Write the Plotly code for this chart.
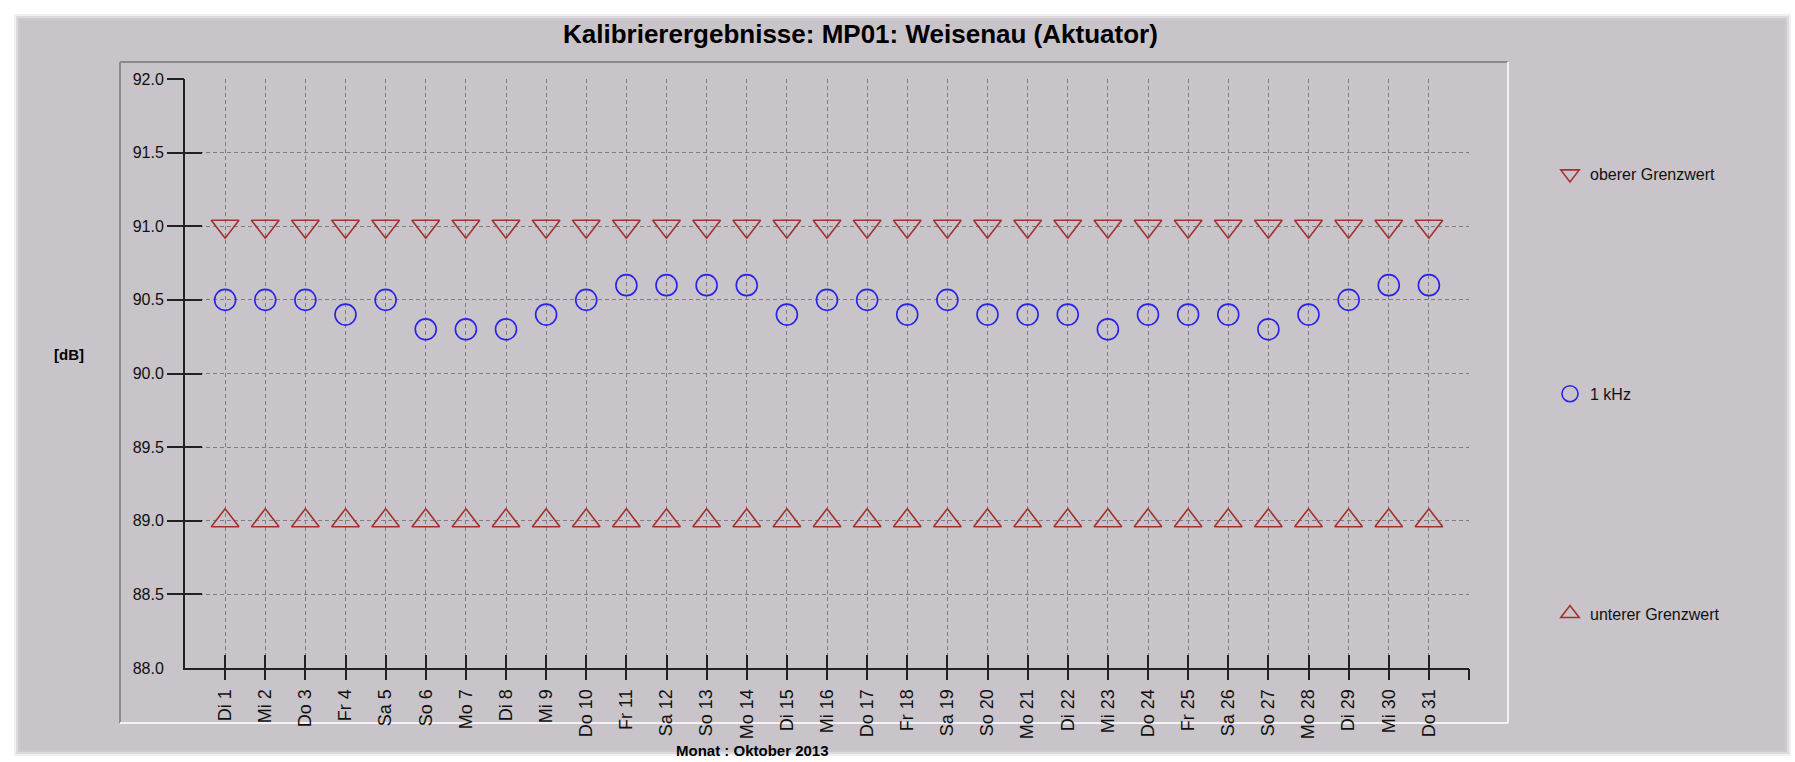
import plotly.graph_objects as go

# ---- data ----
days = list(range(1, 32))
day_labels = ["Di 1", "Mi 2", "Do 3", "Fr 4", "Sa 5", "So 6", "Mo 7", "Di 8", "Mi 9", "Do 10",
              "Fr 11", "Sa 12", "So 13", "Mo 14", "Di 15", "Mi 16", "Do 17", "Fr 18", "Sa 19",
              "So 20", "Mo 21", "Di 22", "Mi 23", "Do 24", "Fr 25", "Sa 26", "So 27", "Mo 28",
              "Di 29", "Mi 30", "Do 31"]
upper_limit = [91.0] * 31
lower_limit = [89.0] * 31
khz1 = [90.5, 90.5, 90.5, 90.4, 90.5, 90.3, 90.3, 90.3, 90.4, 90.5,
        90.6, 90.6, 90.6, 90.6, 90.4, 90.5, 90.5, 90.4, 90.5, 90.4,
        90.4, 90.4, 90.3, 90.4, 90.4, 90.4, 90.3, 90.4, 90.5, 90.6, 90.6]
y_ticks = [88.0, 88.5, 89.0, 89.5, 90.0, 90.5, 91.0, 91.5, 92.0]
y_ticktext = ["88.0", "88.5", "89.0", "89.5", "90.0", "90.5", "91.0", "91.5", "92.0"]

title = "Kalibrierergebnisse: MP01: Weisenau (Aktuator)"
x_title = "Monat : Oktober 2013"
y_title = "[dB]"

# ---- layout geometry (pixels) ----
W, H = 1795, 762
L, R, T, B = 185, 1469, 79, 668
PW, PH = R - L, B - T


def px(x):
    return (x - L) / PW


def py(y):
    return (B - y) / PH


GRAY = "#c8c4c9"
FONT = "Liberation Sans, Arial, sans-serif"
RED = "#a3322e"
BLUE = "#2a22e6"

fig = go.Figure()
fig.add_trace(go.Scatter(x=days, y=upper_limit, mode="markers", name="oberer Grenzwert",
                         legendgroup="a", xaxis="x", yaxis="y",
                         marker=dict(symbol="triangle-down-open", size=24, color=RED,
                                     line=dict(width=1.6, color=RED))))
fig.add_trace(go.Scatter(x=days, y=khz1, mode="markers", name="1 kHz",
                         legendgroup="b", xaxis="x2", yaxis="y2",
                         marker=dict(symbol="circle-open", size=21, color=BLUE,
                                     line=dict(width=1.6, color=BLUE))))
fig.add_trace(go.Scatter(x=days, y=lower_limit, mode="markers", name="unterer Grenzwert",
                         legendgroup="c", xaxis="x", yaxis="y3",
                         marker=dict(symbol="triangle-up-open", size=24, color=RED,
                                     line=dict(width=1.6, color=RED))))

shapes = []
# outer page card with soft edge
for i, op in enumerate([0.25, 0.5, 0.75, 1.0]):
    d = 14 + i * 2
    shapes.append(dict(type="rect", xref="paper", yref="paper", layer="below",
                       x0=px(d), x1=px(W - 4 - i * 2), y0=py(H - 6 - i * 2), y1=py(d),
                       fillcolor=GRAY, opacity=op, line=dict(width=0)))
# inner panel (inset look)
shapes.append(dict(type="line", xref="paper", yref="paper", layer="below",
                   x0=px(120), x1=px(1508), y0=py(62), y1=py(62),
                   line=dict(color="#8e8a90", width=2)))
shapes.append(dict(type="line", xref="paper", yref="paper", layer="below",
                   x0=px(120), x1=px(120), y0=py(62), y1=py(723),
                   line=dict(color="#8e8a90", width=2)))
shapes.append(dict(type="line", xref="paper", yref="paper", layer="below",
                   x0=px(120), x1=px(1508), y0=py(723), y1=py(723),
                   line=dict(color="#f4f2f5", width=2)))
shapes.append(dict(type="line", xref="paper", yref="paper", layer="below",
                   x0=px(1508), x1=px(1508), y0=py(62), y1=py(723),
                   line=dict(color="#f4f2f5", width=2)))

annotations = [
    dict(text="<b>" + title + "</b>", xref="paper", yref="paper", x=px(861), y=py(34),
         showarrow=False, font=dict(size=26, color="#000", family=FONT),
         xanchor="center", yanchor="middle"),
    dict(text="<b>" + y_title + "</b>", xref="paper", yref="paper", x=px(69), y=py(354),
         showarrow=False, font=dict(size=15, color="#000", family=FONT),
         xanchor="center", yanchor="middle"),
    dict(text="<b>" + x_title + "</b>", xref="paper", yref="paper", x=px(752), y=py(750),
         showarrow=False, font=dict(size=15, color="#000", family=FONT),
         xanchor="center", yanchor="middle"),
]

grid_dash = "4px,3px"
fig.update_layout(
    width=W, height=H,
    margin=dict(l=L, r=W - R, t=T, b=H - B, pad=0),
    paper_bgcolor="white", plot_bgcolor=GRAY,
    font=dict(family=FONT, color="#111", size=16),
    shapes=shapes, annotations=annotations,
    showlegend=True,
    legend=dict(x=px(1550), y=py(157), xanchor="left", yanchor="top",
                bgcolor="rgba(0,0,0,0)", font=dict(size=16, color="#111"),
                tracegroupgap=196, itemsizing="trace", traceorder="grouped"),
    xaxis=dict(range=[0, 32], tickmode="array", tickvals=days + [32],
               ticktext=day_labels + [""], tickangle=-90,
               ticks="inside", ticklen=13, tickwidth=2, tickcolor="#222",
               showline=True, linecolor="#222", linewidth=2,
               showgrid=True, gridcolor="#7e7e7e", gridwidth=1, griddash=grid_dash,
               zeroline=False, ticklabelstandoff=12,
               tickfont=dict(size=18, color="#111")),
    xaxis2=dict(range=[0, 32], overlaying="x", side="bottom", tickmode="array",
                tickvals=days + [32], showticklabels=False,
                ticks="outside", ticklen=11, tickwidth=2, tickcolor="#222",
                showline=False, showgrid=False, zeroline=False),
    yaxis=dict(range=[88, 92], tickmode="array", tickvals=y_ticks, ticktext=y_ticktext,
               ticks="", showline=True, linecolor="#222", linewidth=2,
               showgrid=True, gridcolor="#7e7e7e", gridwidth=1, griddash=grid_dash,
               zeroline=False, ticklabelstandoff=16,
               tickfont=dict(size=16, color="#111")),
    yaxis2=dict(range=[88, 92], overlaying="y", side="left", tickmode="array",
                tickvals=y_ticks[1:], showticklabels=False,
                ticks="outside", ticklen=17, tickwidth=2, tickcolor="#222",
                showline=False, showgrid=False, zeroline=False),
    yaxis3=dict(range=[88, 92], overlaying="y", side="left", tickmode="array",
                tickvals=y_ticks[1:], showticklabels=False,
                ticks="inside", ticklen=17, tickwidth=2, tickcolor="#222",
                showline=False, showgrid=False, zeroline=False),
)

fig.write_html("out.html", config={"displayModeBar": False},
               post_script="document.body.style.margin='0';document.body.style.overflow='hidden';")
